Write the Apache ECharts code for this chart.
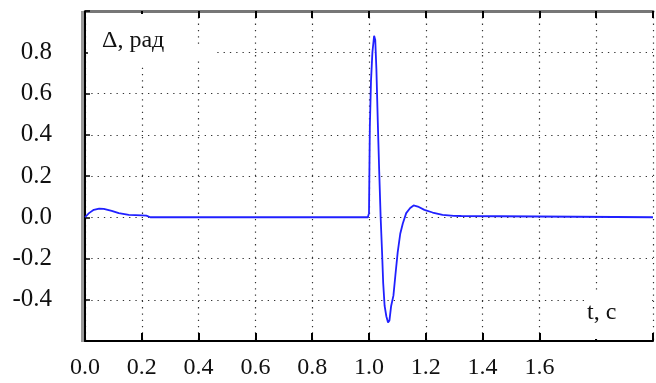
<!DOCTYPE html>
<html>
<head>
<meta charset="utf-8">
<script src="https://cdn.jsdelivr.net/npm/echarts@6/dist/echarts.min.js"></script>
<style>html,body{margin:0;padding:0;background:#fff}#c{width:656px;height:383px}</style>
</head>
<body>
<div id="c"></div>
<script>
// time, s
var tValues = [0, 0.014, 0.031, 0.05, 0.066, 0.094, 0.119, 0.154, 0.2, 0.216, 0.23,
  0.996, 1.0, 1.003, 1.007, 1.012, 1.018, 1.022, 1.026, 1.031, 1.036, 1.041, 1.046, 1.05,
  1.055, 1.061, 1.067, 1.072, 1.078, 1.086, 1.093, 1.101, 1.11, 1.119, 1.131, 1.145,
  1.157, 1.172, 1.195, 1.224, 1.259, 1.299, 1.325, 1.327, 2.0];
// Delta, rad
var deltaValues = [0, 0.02, 0.036, 0.042, 0.041, 0.031, 0.02, 0.012, 0.009, 0.008, 0,
  0, 0.02, 0.44, 0.66, 0.8, 0.88, 0.86, 0.72, 0.46, 0.22, 0.0, -0.17, -0.32,
  -0.43, -0.48, -0.51, -0.5, -0.43, -0.38, -0.28, -0.17, -0.08, -0.03, 0.02, 0.045,
  0.057, 0.052, 0.036, 0.023, 0.012, 0.007, 0.006, 0, 0];
var xTickLabels = ['0.0', '0.2', '0.4', '0.6', '0.8', '1.0', '1.2', '1.4', '1.6'];
var yTickLabels = ['-0.4', '-0.2', '0.0', '0.2', '0.4', '0.6', '0.8'];
var yAxisTitle = 'Δ, рад';
var xAxisTitle = 't, c';

var font = 'Liberation Serif';
var chart = echarts.init(document.getElementById('c'));
var pts = tValues.map(function (t, i) { return [t, deltaValues[i]]; });
var grid = { left: 85, right: -5, top: 11, height: 330 };
var dotted = { show: true, lineStyle: { color: '#333', width: 1.2, type: [1.3, 5] } };

chart.setOption({
  animation: false,
  backgroundColor: '#fff',
  textStyle: { fontFamily: font },
  grid: grid,
  xAxis: [{
    type: 'value', min: 0, max: 2, interval: 0.2, position: 'bottom',
    axisLine: { show: true, onZero: false, lineStyle: { color: '#000', width: 2 } },
    axisTick: { show: true, inside: true, length: 8, lineStyle: { color: '#000', width: 2 } },
    axisLabel: {
      fontFamily: font, fontSize: 24, color: '#111', margin: 15,
      formatter: function (v) { var s = v.toFixed(1); return xTickLabels.indexOf(s) >= 0 ? s : ''; }
    },
    splitLine: dotted
  }, {
    type: 'value', min: 0, max: 2, interval: 0.2, position: 'top',
    axisLine: { show: true, onZero: false, lineStyle: { color: '#777', width: 3 } },
    axisTick: { show: true, inside: true, length: 7, lineStyle: { color: '#000', width: 2 } },
    axisLabel: { show: false }, splitLine: { show: false }
  }],
  yAxis: [{
    type: 'value', min: -0.6, max: 1.0, interval: 0.2,
    axisLine: { show: true, onZero: false, lineStyle: { color: '#000', width: 2 } },
    axisTick: { show: true, inside: true, length: 5, lineStyle: { color: '#000', width: 1.5 } },
    axisLabel: {
      fontFamily: font, fontSize: 25, color: '#111', margin: 33,
      formatter: function (v) { var s = v.toFixed(1); if (s === '-0.0') s = '0.0'; return yTickLabels.indexOf(s) >= 0 ? s : ''; }
    },
    splitLine: dotted
  }],
  graphic: [
    { type: 'rect', z: 1, shape: { x: 81, y: 11, width: 3, height: 331 }, style: { fill: '#999' } },
    { type: 'rect', z: 1, shape: { x: 88, y: 14, width: 108, height: 50 }, style: { fill: '#fff' } },
    { type: 'rect', z: 1, shape: { x: 196, y: 46, width: 20, height: 12 }, style: { fill: '#fff' } },
    { type: 'rect', z: 1, shape: { x: 586, y: 293, width: 64, height: 46 }, style: { fill: '#fff' } },
    { type: 'text', z: 3, left: 102, top: 29, style: { text: yAxisTitle, font: '24px "Liberation Serif"', fill: '#111' } },
    { type: 'text', z: 3, left: 587, top: 301, style: { text: xAxisTitle, font: '24px "Liberation Serif"', fill: '#111' } }
  ],
  series: [{
    type: 'line', data: pts, showSymbol: false, symbol: 'none', z: 5,
    lineStyle: { color: '#2020ff', width: 1.8 }
  }]
});
</script>
</body>
</html>
